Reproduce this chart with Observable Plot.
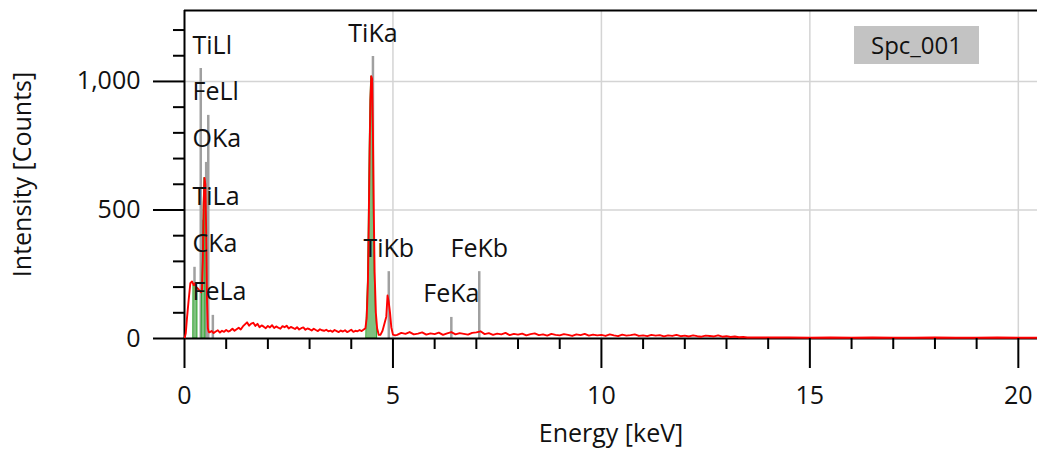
<!DOCTYPE html>
<html>
<head>
<meta charset="utf-8">
<script src="https://cdn.jsdelivr.net/npm/d3@7"></script>
<script src="https://cdn.jsdelivr.net/npm/@observablehq/plot@0.6"></script>
<style>
  html, body { margin: 0; padding: 0; background: #fff; }
  #wrap { position: relative; width: 1037px; height: 450px; font-family: "Open Sans", sans-serif; }
  #tag { position: absolute; left: 854px; top: 26px; width: 125px; height: 38px; background: #c3c3c3;
         font-size: 24px; line-height: 38px; text-align: center; color: #111; }
</style>
</head>
<body>
<div id="wrap"><div id="tag">Spc_001</div></div>
<script>
// ---- spectrum: low-energy part (keV, counts)
const lowEnergy = [0, 0.03, 0.06, 0.10, 0.14, 0.18, 0.22, 0.25, 0.28, 0.31, 0.34, 0.37, 0.40, 0.42, 0.44, 0.46, 0.48, 0.50, 0.52, 0.54, 0.56, 0.58];
const lowCounts = [0, 20, 80, 150, 215, 222, 208, 214, 200, 196, 190, 185, 180, 190, 300, 520, 625, 600, 420, 150, 40, 26];

// ---- background 0.60 .. 4.30 keV, channel step 0.05 keV
const bg1Start = 0.60, bg1Step = 0.05;
const bg1Counts = [
  24, 29, 21, 27, 32, 23, 30, 26,
  33, 27, 31, 38, 30, 36, 42, 35,
  47, 55, 63, 50, 58, 61, 49, 57,
  44, 51, 46, 40, 49, 43, 52, 41,
  47, 42, 38, 48, 44, 50, 39, 45,
  41, 37, 44, 35, 40, 43, 34, 39,
  36, 31, 38, 33, 29, 36, 32, 30,
  34, 28, 31, 26, 33, 29, 25, 31,
  27, 32, 25, 29, 34, 26, 30, 28,
  33, 29, 35
];

// ---- Ti K peaks
const peakEnergy = [4.34, 4.37, 4.40, 4.42, 4.44, 4.46, 4.48, 4.50, 4.52, 4.54, 4.56, 4.59, 4.62, 4.66, 4.70, 4.75, 4.80, 4.84, 4.87, 4.90, 4.93, 4.96, 5.00, 5.05];
const peakCounts = [40, 80, 220, 450, 720, 930, 1020, 1010, 800, 500, 260, 100, 40, 14, 14, 30, 60, 85, 167, 140, 100, 44, 15, 12];

// ---- background 5.1 .. 13.5 keV, step 0.1 keV
const bg2Start = 5.1, bg2Step = 0.1;
const bg2Counts = [
  14, 22, 18, 25, 16, 19, 24, 15, 20,
  17, 23, 14, 20, 25, 16, 21, 18, 15, 22,
  24, 28, 17, 21, 14, 19, 16, 22, 13, 18,
  15, 19, 12, 17, 20, 13, 16, 11, 18, 14,
  12, 17, 14, 10, 16, 13, 18, 11, 15, 12,
  14, 10, 16, 12, 9, 15, 11, 13, 16, 10,
  12, 9, 14, 11, 13, 8, 12, 10, 14, 9,
  11, 8, 12, 9, 7, 11, 10, 8, 12, 7,
  9, 6, 8, 5, 6, 4
];

// ---- tail 14 .. 20.5 keV, step 0.5 keV
const bg3Start = 14.0, bg3Step = 0.5;
const bg3Counts = [4, 4, 3, 4, 3, 4, 3, 3, 4, 3, 3, 4, 3, 3];

// ---- ROI windows (keV)
const roiStart = [0.22, 0.42, 4.37];
const roiEnd   = [0.31, 0.50, 4.62];

// ---- KLM markers
const markerNames  = ["CKa", "TiLl", "TiLa", "OKa", "FeLl", "FeLa", "TiKa", "TiKb", "FeKa", "FeKb"];
const markerEnergy = [0.24, 0.39, 0.45, 0.52, 0.57, 0.68, 4.52, 4.90, 6.40, 7.07];
const markerHeight = [277, 1050, 460, 685, 868, 90, 1097, 260, 82, 260];

// ---- axes
const xMajorTicks = [0, 5, 10, 15, 20];
const xMinorTicks = [1, 2, 3, 4, 6, 7, 8, 9, 11, 12, 13, 14, 16, 17, 18, 19];
const yMajorTicks = [0, 500, 1000];
const yMinorTicks = [100, 200, 300, 400, 600, 700, 800, 900, 1100, 1200];
const xMax = 20.46, yMax = 1276;

// build tables
const spectrum = [];
lowEnergy.forEach((e, i) => spectrum.push({e, c: lowCounts[i]}));
bg1Counts.forEach((c, i) => spectrum.push({e: +(bg1Start + i * bg1Step).toFixed(3), c}));
peakEnergy.forEach((e, i) => spectrum.push({e, c: peakCounts[i]}));
bg2Counts.forEach((c, i) => spectrum.push({e: +(bg2Start + i * bg2Step).toFixed(3), c}));
bg3Counts.forEach((c, i) => spectrum.push({e: +(bg3Start + i * bg3Step).toFixed(3), c}));

const roiPts = [];
roiStart.forEach((a, k) => spectrum.filter(d => d.e >= a - 1e-9 && d.e <= roiEnd[k] + 1e-9)
  .forEach(d => roiPts.push({...d, roi: k})));

const markers = markerNames.map((name, i) => ({name, e: markerEnergy[i], h: markerHeight[i]}));

const fs = 25;
const chart = Plot.plot({
  width: 1037, height: 450,
  marginLeft: 184, marginRight: 0, marginTop: 10, marginBottom: 112,
  x: {domain: [0, xMax]},
  y: {domain: [0, yMax]},
  style: {fontFamily: "Open Sans", fontSize: fs + "px", color: "#111", background: "transparent"},
  marks: [
    Plot.gridY(yMajorTicks.slice(1), {stroke: "#d4d4d4", strokeOpacity: 1, strokeWidth: 1.5}),
    Plot.gridX(xMajorTicks.slice(1), {stroke: "#d4d4d4", strokeOpacity: 1, strokeWidth: 1.5}),
    Plot.ruleX(markers, {x: "e", y1: 0, y2: "h", stroke: "#a0a0a0", strokeWidth: 2.5}),
    Plot.areaY(roiPts, {x: "e", y: "c", z: "roi", fill: "#80c080", stroke: "#2aa52a", strokeWidth: 1, curve: "linear"}),
    Plot.ruleY([0], {stroke: "black", strokeWidth: 2}),
    Plot.ruleX([0], {stroke: "black", strokeWidth: 2}),
    Plot.ruleY([yMax], {stroke: "black", strokeWidth: 2}),
    Plot.line(spectrum, {x: "e", y: "c", stroke: "#ff0000", strokeWidth: 1.9}),
    Plot.text(markers.filter(d => d.e >= 1), {x: "e", y: "h", text: "name", dy: -23, fill: "#111", fontSize: fs}),
    Plot.text(markers.filter(d => d.e < 1), {y: "h", text: "name", frameAnchor: "left", textAnchor: "start", dx: 8, dy: -23, fill: "#111", fontSize: fs}),
    Plot.axisY({ticks: yMajorTicks, tickSize: 31, tickPadding: 13, tickFormat: d3.format(","), strokeWidth: 2, stroke: "black", label: null, fontSize: fs}),
    Plot.axisY({ticks: yMinorTicks, tickSize: 11, tickFormat: () => "", strokeWidth: 2, stroke: "black", label: null}),
    Plot.axisX({ticks: xMajorTicks, tickSize: 30, tickPadding: 18, strokeWidth: 2, stroke: "black", label: null, fontSize: fs}),
    Plot.axisX({ticks: xMinorTicks, tickSize: 11, tickFormat: () => "", strokeWidth: 2, stroke: "black", label: null}),
    Plot.text(["Energy [keV]"], {text: d => d, frameAnchor: "bottom", dy: 103, fontSize: fs, fill: "#111"}),
    Plot.text(["Intensity [Counts]"], {text: d => d, frameAnchor: "left", textAnchor: "middle", dx: -162, rotate: -90, fontSize: fs, fill: "#111"})
  ]
});
chart.style.position = "absolute";
chart.style.left = "0px";
chart.style.top = "0px";
document.getElementById("wrap").insertBefore(chart, document.getElementById("tag"));
</script>
</body>
</html>
